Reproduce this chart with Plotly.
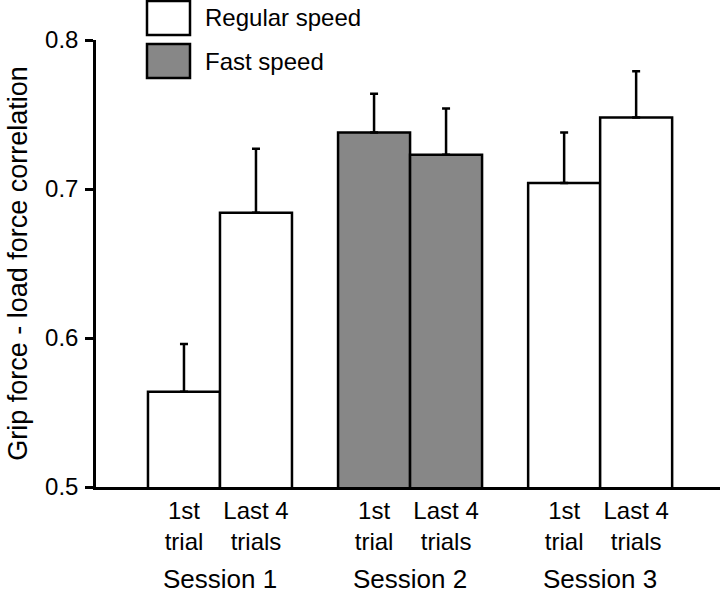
import plotly.graph_objects as go

sessions = ["Session 1", "Session 2", "Session 3"]
conditions = ["1st<br>trial", "Last 4<br>trials"]
speeds = ["Regular speed", "Fast speed", "Regular speed"]
means = [[0.564, 0.684], [0.738, 0.723], [0.704, 0.748]]
sems = [[0.032, 0.043], [0.026, 0.031], [0.034, 0.031]]
legend_items = ["Regular speed", "Fast speed"]

FILL = {"Regular speed": "#ffffff", "Fast speed": "#878787"}
GROUP_STEP = 2.64
FONT = "Liberation Sans, Arial, sans-serif"

# page-pixel geometry of the plot area
W, H = 720, 595
PL, PT, PB, PW = 96, 40, 487, 624
PH = PB - PT


def px(xp):
    return (xp - PL) / PW


def py(yp):
    return (PB - yp) / PH


fig = go.Figure()
tickvals, ticktext = [], []
for g, (sess, spd) in enumerate(zip(sessions, speeds)):
    xs = [g * GROUP_STEP + i for i in range(len(conditions))]
    fig.add_trace(go.Bar(
        x=xs, y=means[g], width=1.0, base=0,
        marker=dict(color=FILL[spd], line=dict(color="black", width=2.5)),
        error_y=dict(type="data", array=sems[g], arrayminus=[0] * len(xs),
                     symmetric=False, color="black", thickness=2.5, width=4),
        showlegend=False, name=spd,
    ))
    tickvals += xs
    ticktext += conditions
    fig.add_annotation(x=g * GROUP_STEP + 0.5, y=py(579), xref="x", yref="paper",
                       text=sess, showarrow=False, yanchor="middle",
                       font=dict(size=26, color="black", family=FONT))

# manual legend with large swatches
for i, spd in enumerate(legend_items):
    top = 1 + i * 43
    fig.add_shape(type="rect", xref="paper", yref="paper",
                  x0=px(147), x1=px(190), y0=py(top + 34), y1=py(top),
                  fillcolor=FILL[spd], line=dict(color="black", width=2.5))
    fig.add_annotation(x=px(203), y=py(top + 17), xref="paper", yref="paper",
                       text=spd, showarrow=False, xanchor="left", yanchor="middle",
                       font=dict(size=24, color="black", family=FONT))

fig.update_layout(
    width=W, height=H,
    margin=dict(l=PL, r=W - PL - PW, t=PT, b=H - PB),
    paper_bgcolor="white", plot_bgcolor="white",
    font=dict(family=FONT, color="black", size=24),
    barmode="overlay",
)
fig.update_xaxes(range=[-1.222, -1.222 + PW / 72], tickvals=tickvals, ticktext=ticktext,
                 showline=True, linecolor="black", linewidth=2.5, ticks="",
                 showgrid=False, zeroline=False, tickfont=dict(size=24))
fig.update_yaxes(range=[0.5, 0.8], tickvals=[0.5, 0.6, 0.7, 0.8],
                 ticktext=["0.5", "0.6", "0.7", "0.8"],
                 showline=True, linecolor="black", linewidth=2.5,
                 ticks="outside", ticklen=8, tickwidth=2.5, tickcolor="black",
                 ticklabelstandoff=2,
                 showgrid=False, zeroline=False, tickfont=dict(size=24),
                 title=dict(text="Grip force - load force correlation", standoff=10,
                            font=dict(size=27)))

fig.write_html("out.html", config={"displayModeBar": False},
               post_script="document.body.style.margin='0';document.body.style.overflow='hidden';")
